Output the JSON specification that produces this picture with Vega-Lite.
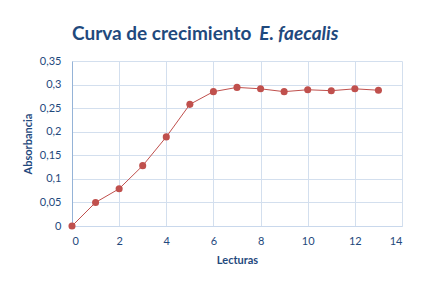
{
  "$schema": "https://vega.github.io/schema/vega-lite/v6.json",
  "width": 330,
  "height": 165,
  "autosize": {"type": "none"},
  "padding": {"left": 72, "top": 61, "right": 25, "bottom": 59},
  "background": "white",
  "title": {
    "text": "Curva de crecimiento",
    "subtitle": "\u200b\u00a0\u00a0\u00a0\u00a0\u00a0\u00a0\u00a0\u00a0\u00a0\u00a0\u00a0\u00a0\u00a0\u00a0\u00a0\u00a0\u00a0\u00a0\u00a0\u00a0\u00a0\u00a0\u00a0\u00a0\u00a0\u00a0\u00a0\u00a0\u00a0\u00a0\u00a0\u00a0\u00a0\u00a0\u00a0\u00a0\u00a0\u00a0\u00a0\u00a0\u00a0\u00a0\u00a0\u00a0\u00a0E. faecalis",
    "anchor": "start",
    "frame": "group",
    "font": "Lato",
    "fontSize": 19,
    "fontWeight": "bold",
    "color": "#1F497D",
    "subtitleFont": "Lato",
    "subtitleFontSize": 19,
    "subtitleFontWeight": "bold",
    "subtitleFontStyle": "italic",
    "subtitleColor": "#1F497D",
    "subtitlePadding": -19,
    "offset": 11
  },
  "data": {
    "values": [
      {"lectura": 0, "absorbancia": 0.0},
      {"lectura": 1, "absorbancia": 0.05},
      {"lectura": 2, "absorbancia": 0.079},
      {"lectura": 3, "absorbancia": 0.128},
      {"lectura": 4, "absorbancia": 0.189},
      {"lectura": 5, "absorbancia": 0.258},
      {"lectura": 6, "absorbancia": 0.285},
      {"lectura": 7, "absorbancia": 0.294},
      {"lectura": 8, "absorbancia": 0.291},
      {"lectura": 9, "absorbancia": 0.285},
      {"lectura": 10, "absorbancia": 0.289},
      {"lectura": 11, "absorbancia": 0.287},
      {"lectura": 12, "absorbancia": 0.291},
      {"lectura": 13, "absorbancia": 0.288}
    ]
  },
  "mark": {
    "type": "line",
    "color": "#C0504D",
    "strokeWidth": 1,
    "point": {"filled": true, "size": 50, "color": "#C0504D", "opacity": 1}
  },
  "encoding": {
    "x": {
      "field": "lectura",
      "type": "quantitative",
      "scale": {"domain": [0, 14], "nice": false, "zero": false},
      "axis": {
        "values": [0, 2, 4, 6, 8, 10, 12, 14],
        "title": "Lecturas",
        "grid": true,
        "gridColor": "#D3DFEE",
        "domainColor": "#C9D8EC",
        "ticks": false,
        "labelPadding": 9,
        "labelFont": "Lato",
        "labelFontSize": 11,
        "labelColor": "#1F497D",
        "titleFont": "Lato",
        "titleFontSize": 11,
        "titleFontWeight": "bold",
        "titleColor": "#1F497D",
        "titlePadding": 8
      }
    },
    "y": {
      "field": "absorbancia",
      "type": "quantitative",
      "scale": {"domain": [0, 0.35], "nice": false},
      "axis": {
        "values": [0, 0.05, 0.1, 0.15, 0.2, 0.25, 0.3, 0.35],
        "labelExpr": "replace(format(datum.value, '.2~f'), '.', ',')",
        "title": "Absorbancia",
        "grid": true,
        "gridColor": "#D3DFEE",
        "domainColor": "#95B3D7",
        "ticks": false,
        "labelPadding": 11,
        "labelFont": "Lato",
        "labelFontSize": 11,
        "labelColor": "#1F497D",
        "titleFont": "Lato",
        "titleFontSize": 11,
        "titleFontWeight": "bold",
        "titleColor": "#1F497D",
        "titlePadding": 6
      }
    }
  },
  "config": {"view": {"stroke": null}}
}
